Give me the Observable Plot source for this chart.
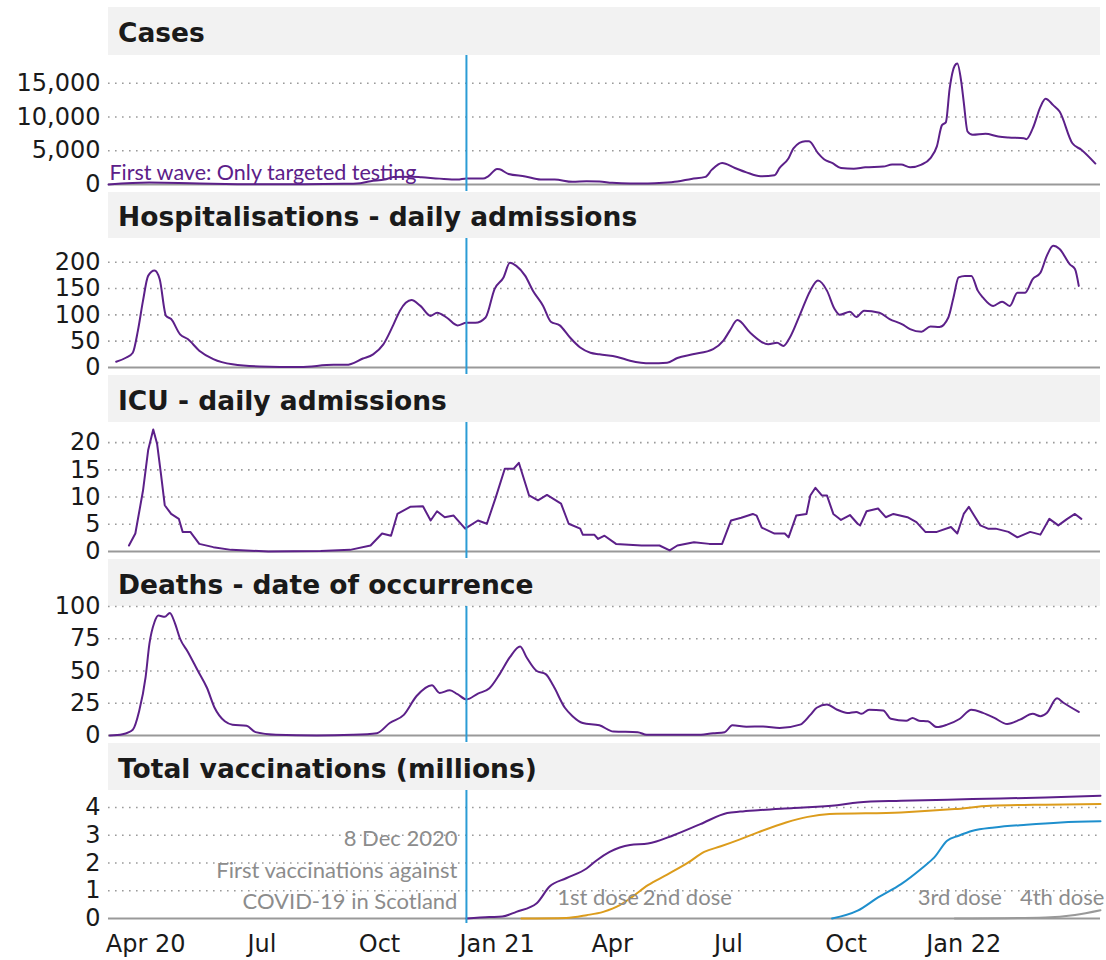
<!DOCTYPE html>
<html><head><meta charset="utf-8">
<script src="https://cdn.jsdelivr.net/npm/d3@7"></script>
<script src="https://cdn.jsdelivr.net/npm/@observablehq/plot@0.6"></script>
<style>
html,body{margin:0;background:#fff;overflow:hidden;}
#chart{width:1106px;padding-top:7px;}
.hdr{margin-left:108px;width:992px;background:#f2f2f2;box-sizing:border-box;padding-left:10px;font-family:"DejaVu Sans",sans-serif;font-weight:700;font-size:26.5px;color:#1a1a1a;white-space:nowrap;}
#chart svg{display:block;}
</style></head><body><div id="chart"></div>
<script>
// ---------- data ----------
const panelTitles = ["Cases","Hospitalisations - daily admissions","ICU - daily admissions","Deaths - date of occurrence","Total vaccinations (millions)"];

const cases = [["2020-03-03",0],["2020-04-04",290],["2020-04-27",240],["2020-05-13",150],["2020-06-21",50],["2020-08-03",50],["2020-09-03",100],["2020-09-16",200],["2020-09-24",485],["2020-10-05",730],["2020-10-12",1100],["2020-10-26",1160],["2020-11-03",1070],["2020-11-17",870],["2020-12-01",730],["2020-12-08",900],["2020-12-21",870],["2020-12-25",1200],["2021-01-01",2300],["2021-01-03",2250],["2021-01-10",1550],["2021-01-23",1200],["2021-02-04",735],["2021-02-15",735],["2021-03-01",390],["2021-03-12",490],["2021-03-22",440],["2021-04-01",245],["2021-04-15",150],["2021-04-29",150],["2021-05-11",245],["2021-05-22",440],["2021-06-02",830],["2021-06-13",1130],["2021-06-18",2200],["2021-06-26",3200],["2021-07-06",2450],["2021-07-15",1800],["2021-07-26",1230],["2021-08-06",1370],["2021-08-10",2450],["2021-08-17",3900],["2021-08-21",5400],["2021-08-30",6400],["2021-09-02",6400],["2021-09-09",4650],["2021-09-14",3700],["2021-09-20",3200],["2021-09-27",2450],["2021-10-07",2350],["2021-10-16",2550],["2021-10-30",2650],["2021-11-06",2950],["2021-11-13",2950],["2021-11-20",2550],["2021-11-29",2950],["2021-12-06",3900],["2021-12-11",5650],["2021-12-15",8800],["2021-12-18",9200],["2021-12-21",14200],["2021-12-25",17600],["2021-12-27",17900],["2021-12-30",15300],["2022-01-01",12250],["2022-01-04",7850],["2022-01-08",7350],["2022-01-18",7500],["2022-01-28",7100],["2022-02-05",6950],["2022-02-17",6850],["2022-02-19",6700],["2022-02-24",8300],["2022-03-02",11500],["2022-03-06",12700],["2022-03-12",11750],["2022-03-17",10800],["2022-03-27",6100],["2022-04-03",5150],["2022-04-14",3100]];

const hospital = [["2020-03-09",11],["2020-03-17",19],["2020-03-22",28],["2020-03-26",70],["2020-03-30",127],["2020-04-03",174],["2020-04-08",184],["2020-04-12",168],["2020-04-17",98],["2020-04-21",92],["2020-04-28",63],["2020-05-04",54],["2020-05-13",32],["2020-05-24",16],["2020-06-08",6],["2020-06-29",2],["2020-07-31",1],["2020-08-26",5],["2020-09-05",5],["2020-09-18",17],["2020-09-26",25],["2020-10-04",44],["2020-10-12",82],["2020-10-17",108],["2020-10-26",128],["2020-11-02",117],["2020-11-10",98],["2020-11-15",104],["2020-11-23",94],["2020-12-01",80],["2020-12-08",85],["2020-12-15",85],["2020-12-23",95],["2020-12-30",149],["2021-01-06",171],["2021-01-11",199],["2021-01-16",193],["2021-01-23",174],["2021-01-29",146],["2021-02-06",117],["2021-02-12",87],["2021-02-19",80],["2021-02-27",57],["2021-03-07",38],["2021-03-15",28],["2021-03-22",25],["2021-04-05",20],["2021-04-15",13],["2021-05-01",8],["2021-05-14",9],["2021-05-22",18],["2021-06-03",25],["2021-06-19",35],["2021-06-27",51],["2021-07-02",70],["2021-07-08",90],["2021-07-18",66],["2021-08-01",44],["2021-08-08",47],["2021-08-13",41],["2021-08-18",57],["2021-08-26",101],["2021-09-03",146],["2021-09-09",165],["2021-09-16",146],["2021-09-22",111],["2021-09-26",100],["2021-10-04",106],["2021-10-09",96],["2021-10-15",108],["2021-10-27",104],["2021-11-04",92],["2021-11-14",82],["2021-11-20",73],["2021-11-29",68],["2021-12-06",78],["2021-12-13",77],["2021-12-20",95],["2021-12-24",133],["2021-12-28",171],["2022-01-02",174],["2022-01-07",174],["2022-01-12",146],["2022-01-16",133],["2022-01-24",117],["2022-01-31",125],["2022-02-06",117],["2022-02-12",142],["2022-02-18",142],["2022-02-24",168],["2022-03-02",180],["2022-03-07",212],["2022-03-12",231],["2022-03-17",225],["2022-03-25",196],["2022-03-29",187],["2022-04-01",155]];

const icu = [["2020-03-19",1.1],["2020-03-24",3.3],["2020-03-30",11.2],["2020-04-03",18.6],["2020-04-07",22.4],["2020-04-10",19.8],["2020-04-13",14.3],["2020-04-16",8.5],["2020-04-21",6.9],["2020-04-27",6],["2020-04-30",3.6],["2020-05-06",3.6],["2020-05-13",1.4],["2020-05-24",0.8],["2020-06-07",0.3],["2020-07-06",0],["2020-08-16",0.1],["2020-09-08",0.3],["2020-09-24",1.1],["2020-10-03",3.3],["2020-10-10",2.9],["2020-10-15",6.9],["2020-10-25",8.2],["2020-11-04",8.3],["2020-11-10",5.7],["2020-11-15",7.4],["2020-11-21",6.3],["2020-11-28",6.6],["2020-12-07",4.2],["2020-12-17",5.7],["2020-12-24",5.1],["2020-12-31",10],["2021-01-07",15.2],["2021-01-14",15.2],["2021-01-18",16.3],["2021-01-26",10.3],["2021-02-02",9.4],["2021-02-09",10.4],["2021-02-20",8.8],["2021-02-26",5.1],["2021-03-07",4.2],["2021-03-09",3.1],["2021-03-18",3.1],["2021-03-21",2.3],["2021-03-26",2.9],["2021-04-04",1.4],["2021-04-24",1.1],["2021-05-08",1.1],["2021-05-16",0.2],["2021-05-22",1.1],["2021-06-04",1.7],["2021-06-16",1.4],["2021-06-26",1.4],["2021-07-03",5.7],["2021-07-11",6.2],["2021-07-20",6.9],["2021-07-23",6.6],["2021-07-27",4.4],["2021-08-06",3.3],["2021-08-14",3.3],["2021-08-17",2.6],["2021-08-23",6.6],["2021-08-31",6.9],["2021-09-03",10.3],["2021-09-07",11.7],["2021-09-12",10.3],["2021-09-16",10.3],["2021-09-21",6.9],["2021-09-27",5.8],["2021-10-04",6.7],["2021-10-10",5.1],["2021-10-12",4.8],["2021-10-17",7.4],["2021-10-26",7.9],["2021-11-01",6.3],["2021-11-07",6.9],["2021-11-18",6.3],["2021-11-25",5.4],["2021-12-02",3.6],["2021-12-11",3.6],["2021-12-22",4.5],["2021-12-27",3.3],["2022-01-01",6.9],["2022-01-05",8.2],["2022-01-10",6.3],["2022-01-14",4.8],["2022-01-20",4.2],["2022-01-26",4.2],["2022-02-05",3.6],["2022-02-12",2.6],["2022-02-22",3.6],["2022-03-02",3.1],["2022-03-09",6],["2022-03-16",4.8],["2022-03-23",6],["2022-03-29",6.9],["2022-04-03",6]];

const deaths = [["2020-03-04",0],["2020-03-14",1],["2020-03-22",4.5],["2020-03-27",19],["2020-04-01",45],["2020-04-04",71],["2020-04-08",88],["2020-04-11",93],["2020-04-16",92],["2020-04-20",95],["2020-04-24",87],["2020-04-28",75],["2020-05-04",65],["2020-05-12",50],["2020-05-19",37],["2020-05-25",21.5],["2020-06-02",11],["2020-06-08",8.4],["2020-06-19",7.6],["2020-06-26",2.6],["2020-07-12",0.5],["2020-08-13",0],["2020-09-10",0.5],["2020-09-29",1.8],["2020-10-09",9.7],["2020-10-20",16],["2020-10-30",30.6],["2020-11-11",39],["2020-11-17",33],["2020-11-25",35],["2020-12-01",32],["2020-12-08",28],["2020-12-17",32.5],["2020-12-26",36.6],["2021-01-03",47.6],["2021-01-11",60.7],["2021-01-19",69],["2021-01-24",60.7],["2021-02-01",50],["2021-02-08",47.6],["2021-02-14",38.5],["2021-02-23",21.5],["2021-03-01",15],["2021-03-09",9.7],["2021-03-22",7.9],["2021-04-02",3.1],["2021-04-21",2.6],["2021-04-28",0.5],["2021-05-19",0.5],["2021-06-06",0.5],["2021-06-19",1.8],["2021-06-28",2.6],["2021-07-04",7.9],["2021-07-15",6.8],["2021-07-28",7],["2021-08-10",5.8],["2021-08-26",8.4],["2021-09-03",16],["2021-09-08",21.5],["2021-09-16",24],["2021-09-24",20],["2021-10-02",17.5],["2021-10-09",18.3],["2021-10-13",16.8],["2021-10-19",20],["2021-10-30",19.4],["2021-11-05",13],["2021-11-17",11.5],["2021-11-22",13.6],["2021-11-27",11.5],["2021-12-04",11],["2021-12-11",6.5],["2021-12-19",8.4],["2021-12-29",13],["2022-01-07",20],["2022-01-16",17.5],["2022-01-25",13.6],["2022-02-04",8.9],["2022-02-14",12.3],["2022-02-24",16.8],["2022-03-02",15],["2022-03-07",17.5],["2022-03-15",28.8],["2022-03-20",25.4],["2022-04-01",18.3]];

const dose1 = [["2020-12-08",0],["2020-12-26",0.05],["2021-01-05",0.07],["2021-01-16",0.24],["2021-02-01",0.55],["2021-02-11",1.15],["2021-02-24",1.45],["2021-03-12",1.8],["2021-03-20",2.1],["2021-03-30",2.4],["2021-04-15",2.65],["2021-04-29",2.7],["2021-05-19",3.0],["2021-06-09",3.4],["2021-06-30",3.8],["2021-07-10",3.85],["2021-07-24",3.9],["2021-08-21",3.98],["2021-09-24",4.08],["2021-10-10",4.18],["2021-11-13",4.24],["2022-01-08",4.3],["2022-03-06",4.36],["2022-04-18",4.42]];
const dose2 = [["2021-01-20",0],["2021-02-24",0.02],["2021-03-12",0.12],["2021-03-25",0.24],["2021-04-07",0.48],["2021-04-17",0.79],["2021-04-29",1.2],["2021-05-14",1.58],["2021-05-30",2.0],["2021-06-12",2.4],["2021-06-25",2.6],["2021-07-10",2.85],["2021-07-24",3.1],["2021-08-15",3.46],["2021-09-01",3.66],["2021-09-18",3.76],["2021-11-13",3.82],["2021-12-25",3.94],["2022-01-22",4.06],["2022-03-06",4.1],["2022-04-18",4.12]];
const dose3 = [["2021-09-20",0],["2021-10-10",0.28],["2021-10-26",0.76],["2021-11-13",1.24],["2021-11-30",1.84],["2021-12-09",2.2],["2021-12-19",2.8],["2021-12-28",2.98],["2022-01-08",3.16],["2022-01-25",3.28],["2022-02-19",3.38],["2022-03-18",3.46],["2022-04-18",3.5]];
const dose4 = [["2021-12-25",0],["2022-03-06",0.04],["2022-03-29",0.13],["2022-04-18",0.3]];

const doseLabels = [["1st dose","2021-02-17"],["2nd dose","2021-04-25"],["3rd dose","2021-11-26"],["4th dose","2022-02-14"]];
const doseLabelLevel = 0.5;

const firstWaveNote = [["First wave: Only targeted testing","2020-03-03",650]];
const vaccNote = [["8 Dec 2020\nFirst vaccinations against\nCOVID-19 in Scotland","2020-12-08",0.33]];
const vaccStartDate = "2020-12-08";

const xTickDates = ["2020-04-01","2020-07-01","2020-10-01","2021-01-01","2021-04-01","2021-07-01","2021-10-01","2022-01-01"];
const xTickLabels = ["Apr 20","Jul","Oct","Jan 21","Apr","Jul","Oct","Jan 22"];

const yTicksCases = [0,5000,10000,15000];
const yTicksHosp = [0,50,100,150,200];
const yTicksIcu = [0,5,10,15,20];
const yTicksDeaths = [0,25,50,75,100];
const yTicksVacc = [0,1,2,3,4];

const yMaxCases = 19100, yMaxHosp = 245, yMaxIcu = 23.7, yMaxDeaths = 100, yMaxVacc = 4.61;
const xStart = "2020-03-03", xEnd = "2022-04-18";

// ---------- styles ----------
const purple = "#5c2089", orange = "#dc9c1c", blue3 = "#1e8fcd", grey4 = "#999999", ruleBlue = "#2b9cd5";
const gridCol = "#9a9a9a", noteGrey = "#8c8c8c";
const tickFont = '"DejaVu Sans", sans-serif';
const noteFont = 'Lato, sans-serif';

const toRows = arr => arr.map(([d, v]) => ({date: new Date(d), value: v}));
const xDomain = [new Date(xStart), new Date(xEnd)];
const tickMap = new Map(xTickDates.map((d, i) => [+new Date(d), xTickLabels[i]]));

const chart = document.getElementById("chart");

function panel({title, hdrH, height, marginBottom, yMax, yTicks, yFormat, ruleExtend, marks, xAxis}) {
  const hdr = document.createElement("div");
  hdr.className = "hdr";
  hdr.style.height = hdrH + "px";
  hdr.style.lineHeight = (hdrH + 4) + "px";
  hdr.textContent = title;
  chart.append(hdr);
  const svg = Plot.plot({
    width: 1106, height, marginLeft: 108, marginRight: 6, marginTop: 0, marginBottom,
    style: {fontFamily: tickFont, fontSize: "24px", color: "#1a1a1a", background: "transparent", overflow: "visible"},
    x: xAxis
      ? {type: "utc", domain: xDomain, ticks: xTickDates.map(d => new Date(d)), tickFormat: d => tickMap.get(+d), tickSize: 0, tickPadding: 16, label: null}
      : {type: "utc", domain: xDomain, axis: null},
    y: {domain: [0, yMax], ticks: yTicks, tickFormat: yFormat, tickSize: 0, tickPadding: 8, label: null},
    marks: [
      Plot.ruleY(yTicks.filter(d => d !== 0), {stroke: gridCol, strokeWidth: 1.6, strokeDasharray: "1.6,5.4"}),
      Plot.ruleY([0], {stroke: "#999", strokeWidth: 2.2}),
      ...marks,
      Plot.ruleX([new Date(vaccStartDate)], {stroke: ruleBlue, strokeWidth: 2, insetBottom: -ruleExtend})
    ]
  });
  chart.append(svg);
}

const line = (arr, color, curve = "monotone-x") => Plot.lineY(toRows(arr), {x: "date", y: "value", stroke: color, strokeWidth: 2, curve});

panel({title: panelTitles[0], hdrH: 48, height: 137, marginBottom: 8, yMax: yMaxCases, yTicks: yTicksCases, yFormat: d3.format(","), ruleExtend: 7,
  marks: [
    line(cases, purple),
    Plot.text(firstWaveNote, {x: d => new Date(d[1]), y: d => d[2], text: d => d[0], textAnchor: "start", lineAnchor: "bottom", fill: purple, fontSize: 21.5, fontFamily: noteFont, dx: 1})
  ]});
panel({title: panelTitles[1], hdrH: 46, height: 137, marginBottom: 8, yMax: yMaxHosp, yTicks: yTicksHosp, yFormat: d3.format("d"), ruleExtend: 7,
  marks: [line(hospital, purple)]});
panel({title: panelTitles[2], hdrH: 47, height: 137, marginBottom: 8, yMax: yMaxIcu, yTicks: yTicksIcu, yFormat: d3.format("d"), ruleExtend: 7,
  marks: [line(icu, purple, "linear")]});
panel({title: panelTitles[3], hdrH: 47, height: 137, marginBottom: 8, yMax: yMaxDeaths, yTicks: yTicksDeaths, yFormat: d3.format("d"), ruleExtend: 7,
  marks: [line(deaths, purple)]});
panel({title: panelTitles[4], hdrH: 47, height: 170, marginBottom: 42, yMax: yMaxVacc, yTicks: yTicksVacc, yFormat: d3.format("d"), ruleExtend: 5, xAxis: true,
  marks: [
    line(dose4, grey4),
    line(dose3, blue3),
    line(dose2, orange),
    line(dose1, purple),
    Plot.text(vaccNote, {x: d => new Date(d[1]), y: d => d[2], text: d => d[0], textAnchor: "end", lineAnchor: "bottom", lineHeight: 1.43, fill: noteGrey, fontSize: 22, fontFamily: noteFont, dx: -9}),
    Plot.text(doseLabels, {x: d => new Date(d[1]), y: doseLabelLevel, text: d => d[0], textAnchor: "start", lineAnchor: "bottom", fill: noteGrey, fontSize: 22, fontFamily: noteFont})
  ]});
</script></body></html>
